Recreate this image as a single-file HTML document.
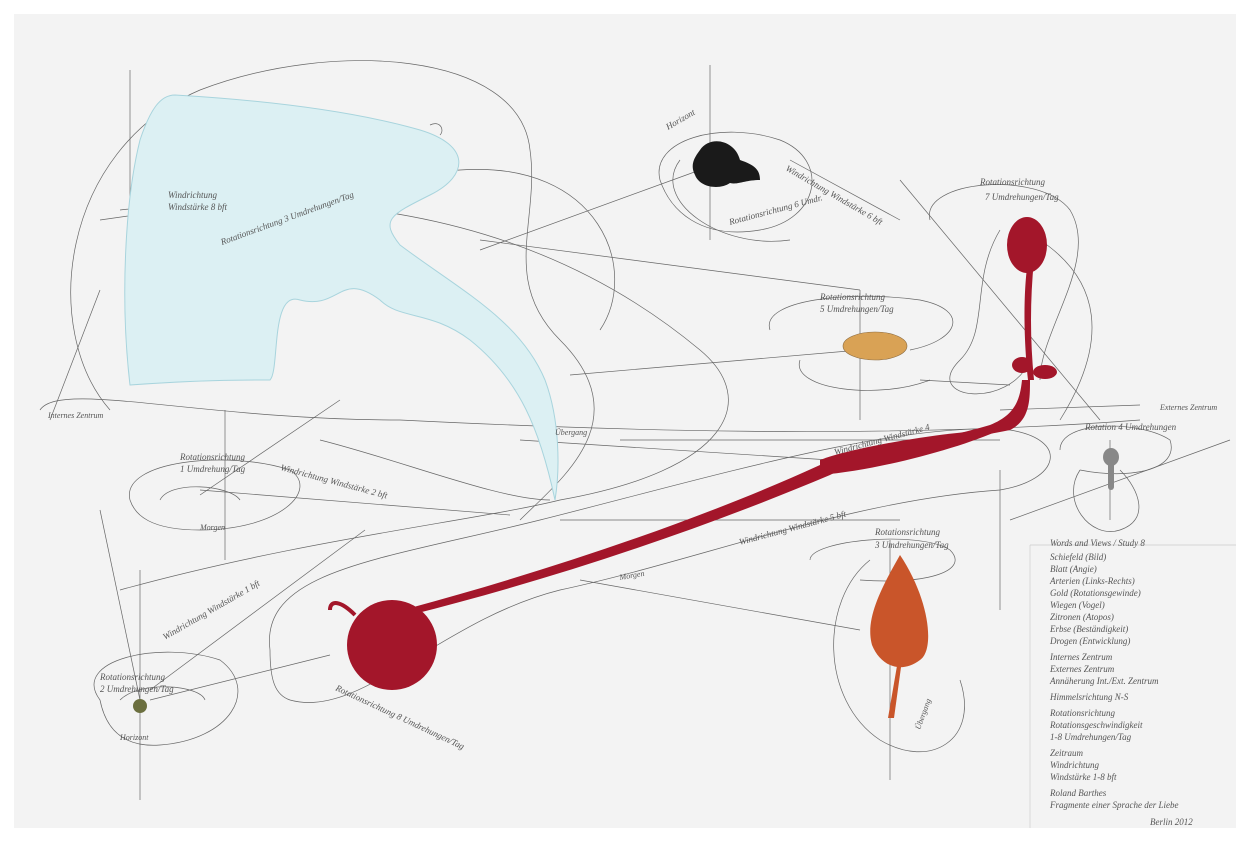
<!DOCTYPE html>
<html><head><meta charset="utf-8"><style>
html,body{margin:0;padding:0;background:#fff;width:1250px;height:842px;overflow:hidden}
svg{display:block}
text{font-family:"Liberation Serif",serif;font-style:italic;fill:#555}
</style></head><body>
<svg width="1250" height="842" viewBox="0 0 1250 842" xmlns="http://www.w3.org/2000/svg">
<rect x="0" y="0" width="1250" height="842" fill="#fff"/>
<rect x="14" y="14" width="1222" height="814" fill="#f3f3f3"/>
<g fill="none" stroke="#666" stroke-width="0.7">
<path d="M110 410 C40 330 60 150 200 90 C330 40 520 50 530 150 C540 220 500 280 560 340 C640 420 560 480 520 520"/>
<path d="M40 410 C60 380 200 420 400 420 C600 430 880 440 1140 420"/>
<path d="M120 210 C300 190 520 200 700 350 C760 400 730 470 560 500 C480 520 300 540 120 590"/>
<path d="M180 350 C120 250 300 180 460 170 C600 160 640 270 600 330"/>
<path d="M270 650 C260 570 380 560 540 520 C700 480 900 420 1010 430 C1070 440 1060 480 1000 490 C850 500 700 560 560 590 C440 620 360 720 290 700 C275 695 270 680 270 650Z"/>
<path d="M930 220 C920 180 1040 170 1070 210 C1100 260 1040 330 1040 380"/>
<path d="M1000 230 C970 280 990 330 960 360 C920 400 1010 410 1030 360"/>
<path d="M1040 240 C1100 280 1110 340 1060 420"/>
<path d="M870 560 C820 600 820 700 880 740 C930 770 980 740 960 680"/>
<path d="M660 180 C650 140 720 120 780 140 C830 160 820 220 760 230 C700 240 670 210 660 180Z"/>
<path d="M680 160 C650 200 720 250 790 240"/>
<path d="M770 330 C760 300 850 290 920 300 C970 310 960 340 910 350"/>
<path d="M800 360 C790 390 880 400 930 380"/>
<path d="M130 500 C120 460 230 450 290 470 C320 490 280 530 200 530 C150 530 135 515 130 500Z"/>
<path d="M160 500 C170 480 230 485 240 500"/>
<path d="M100 700 C70 660 160 640 220 660 C260 690 230 740 160 745 C120 748 105 725 100 700Z"/>
<path d="M120 700 C140 680 200 685 205 700"/>
<path d="M1060 450 C1060 420 1140 420 1170 440 C1180 470 1130 480 1080 470"/>
<path d="M1080 470 C1060 500 1090 540 1120 530 C1150 520 1140 490 1120 470"/>
<path d="M810 560 C810 540 920 530 950 550 C970 570 930 585 860 580"/>
<path d="M320 440 C400 460 500 500 550 500"/>
<path d="M860 290 L480 240"/>
<path d="M860 350 L570 375"/>
<path d="M920 380 L1010 385"/>
<path d="M1000 440 L620 440"/>
<path d="M1100 420 L900 180"/>
<path d="M1230 440 L1010 520"/>
<path d="M900 520 L560 520"/>
<path d="M860 630 L580 580"/>
<path d="M150 700 L330 655"/>
<path d="M140 700 L100 510"/>
<path d="M150 690 L365 530"/>
<path d="M200 490 L510 515"/>
<path d="M200 495 L340 400"/>
<path d="M50 420 L100 290"/>
<path d="M700 170 L480 250"/>
<path d="M790 160 L900 220"/>
<path d="M830 460 L520 440"/>
<path d="M1000 410 L1140 405"/>
<path d="M130 70 L130 330 M100 220 L240 200"/>
<path d="M710 65 L710 240"/>
<path d="M860 290 L860 420"/>
<path d="M225 410 L225 560"/>
<path d="M140 570 L140 800"/>
<path d="M1000 470 L1000 610"/>
<path d="M890 540 L890 780"/>
<path d="M1110 440 L1110 520"/>
<path d="M430 125 C440 120 445 130 440 135"/>
</g>
<path d="M1030 545 L1236 545 M1030 545 L1030 828" stroke="#ccc" stroke-width="0.7" fill="none"/>
<path d="M175 95 C260 100 350 110 420 130 C470 145 470 175 430 195 C390 215 380 220 400 245 C460 290 520 320 545 380 C560 420 560 470 555 500 C540 430 520 380 470 340 C430 310 400 320 380 300 C340 270 340 310 300 300 C270 290 280 370 270 380 C240 380 200 380 130 385 C120 300 125 200 140 140 C150 110 160 95 175 95Z" fill="#dcf0f3" stroke="#a8d4dd" stroke-width="1"/>
<path d="M410 615 C550 580 700 530 830 475 C870 455 960 440 1010 430 C1030 420 1030 400 1030 380 L1022 380 C1020 400 1015 415 990 425 C940 440 870 450 820 465 C700 520 550 570 410 608Z" fill="#a3162a"/>
<path d="M820 460 C860 445 960 430 1000 430 C960 448 880 470 820 475Z" fill="#a3162a"/>
<path d="M1028 380 C1022 320 1025 280 1028 260 L1034 260 C1030 300 1030 340 1034 380Z" fill="#a3162a"/>
<ellipse cx="1027" cy="245" rx="20" ry="28" fill="#a3162a"/>
<ellipse cx="1022" cy="365" rx="10" ry="8" fill="#a3162a"/>
<ellipse cx="1045" cy="372" rx="12" ry="7" fill="#a3162a"/>
<ellipse cx="392" cy="645" rx="45" ry="45" fill="#a3162a"/>
<path d="M355 615 C340 600 330 600 330 610" fill="none" stroke="#a3162a" stroke-width="4"/>
<path d="M900 555 C930 600 935 650 920 660 C900 675 880 665 872 645 C865 620 880 590 900 555Z" fill="#c9552a"/>
<path d="M898 660 L888 718 L894 718 L902 660Z" fill="#c9552a"/>
<path d="M700 150 C710 135 735 140 740 160 C755 165 760 170 760 180 C745 180 738 185 730 183 C720 190 700 188 695 175 C690 165 694 158 700 150Z" fill="#1a1a1a"/>
<ellipse cx="875" cy="346" rx="32" ry="14" fill="#d9a255" stroke="#8a6a40" stroke-width="0.6"/>
<ellipse cx="1111" cy="457" rx="8" ry="9" fill="#888"/>
<rect x="1108" y="462" width="6" height="28" rx="3" fill="#888"/>
<circle cx="140" cy="706" r="7" fill="#6b6f3f"/>
<g font-size="9">
<text x="168" y="198">Windrichtung</text><text x="168" y="210">Windstärke 8 bft</text>
<text x="222" y="245" transform="rotate(-20 222 245)">Rotationsrichtung 3 Umdrehungen/Tag</text>
<text x="668" y="130" transform="rotate(-30 668 130)">Horizont</text>
<text x="730" y="225" transform="rotate(-15 730 225)">Rotationsrichtung 6 Umdr.</text>
<text x="785" y="170" transform="rotate(30 785 170)">Windrichtung Windstärke 6 bft</text>
<text x="980" y="185">Rotationsrichtung</text><text x="985" y="200">7 Umdrehungen/Tag</text>
<text x="820" y="300">Rotationsrichtung</text><text x="820" y="312">5 Umdrehungen/Tag</text>
<text x="48" y="418" font-size="8">Internes Zentrum</text>
<text x="555" y="435" font-size="8">Übergang</text>
<text x="1160" y="410" font-size="8">Externes Zentrum</text>
<text x="1085" y="430">Rotation 4 Umdrehungen</text>
<text x="180" y="460">Rotationsrichtung</text><text x="180" y="472">1 Umdrehung/Tag</text>
<text x="280" y="470" transform="rotate(15 280 470)">Windrichtung Windstärke 2 bft</text>
<text x="835" y="455" transform="rotate(-15 835 455)">Windrichtung Windstärke 4</text>
<text x="740" y="545" transform="rotate(-15 740 545)">Windrichtung Windstärke 5 bft</text>
<text x="165" y="640" transform="rotate(-30 165 640)">Windrichtung Windstärke 1 bft</text>
<text x="100" y="680">Rotationsrichtung</text><text x="100" y="692">2 Umdrehungen/Tag</text>
<text x="335" y="690" transform="rotate(25 335 690)">Rotationsrichtung 8 Umdrehungen/Tag</text>
<text x="875" y="535">Rotationsrichtung</text><text x="875" y="548">3 Umdrehungen/Tag</text>
<text x="620" y="580" transform="rotate(-10 620 580)" font-size="8">Morgen</text>
<text x="200" y="530" font-size="8">Morgen</text>
<text x="120" y="740" font-size="8">Horizont</text>
<text x="920" y="730" transform="rotate(-70 920 730)" font-size="8">Übergang</text>
</g>
<g font-size="9">
<text x="1050" y="546">Words and Views / Study 8</text>
<text x="1050" y="560">Schiefeld (Bild)</text>
<text x="1050" y="572">Blatt (Angie)</text>
<text x="1050" y="584">Arterien (Links-Rechts)</text>
<text x="1050" y="596">Gold (Rotationsgewinde)</text>
<text x="1050" y="608">Wiegen (Vogel)</text>
<text x="1050" y="620">Zitronen (Atopos)</text>
<text x="1050" y="632">Erbse (Beständigkeit)</text>
<text x="1050" y="644">Drogen (Entwicklung)</text>
<text x="1050" y="660">Internes Zentrum</text>
<text x="1050" y="672">Externes Zentrum</text>
<text x="1050" y="684">Annäherung Int./Ext. Zentrum</text>
<text x="1050" y="700">Himmelsrichtung N-S</text>
<text x="1050" y="716">Rotationsrichtung</text>
<text x="1050" y="728">Rotationsgeschwindigkeit</text>
<text x="1050" y="740">1-8 Umdrehungen/Tag</text>
<text x="1050" y="756">Zeitraum</text>
<text x="1050" y="768">Windrichtung</text>
<text x="1050" y="780">Windstärke 1-8 bft</text>
<text x="1050" y="796">Roland Barthes</text>
<text x="1050" y="808">Fragmente einer Sprache der Liebe</text>
<text x="1150" y="825">Berlin 2012</text>
</g>
</svg>
</body></html>
